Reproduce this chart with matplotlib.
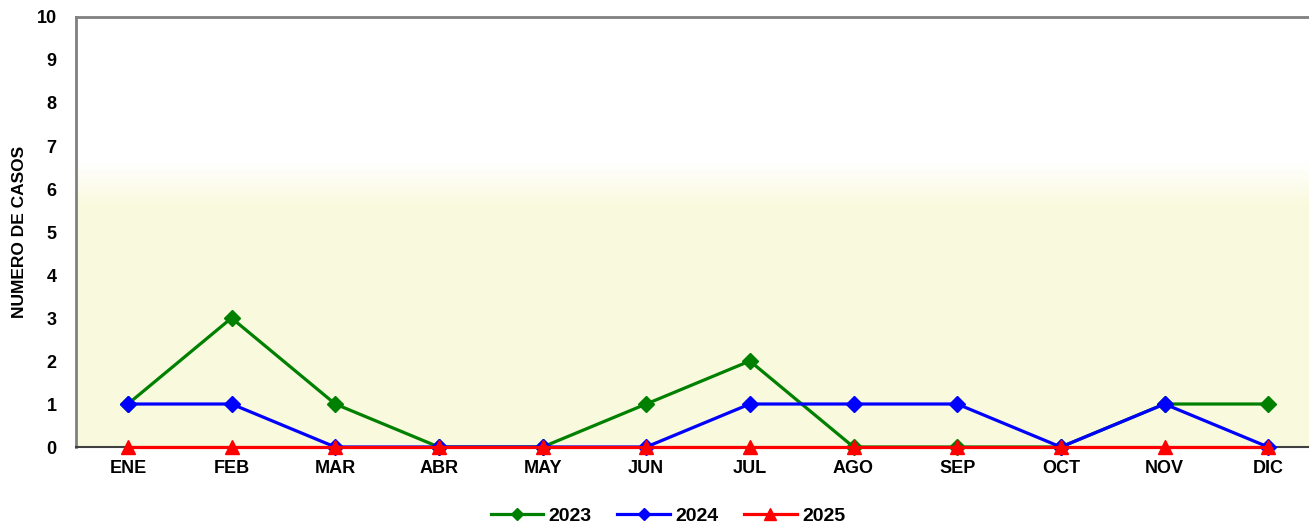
import numpy as np
import matplotlib.pyplot as plt
from matplotlib.lines import Line2D

plt.rcParams['font.family'] = ['Liberation Sans', 'DejaVu Sans']

# Data
meses = ["ENE", "FEB", "MAR", "ABR", "MAY", "JUN", "JUL", "AGO", "SEP", "OCT", "NOV", "DIC"]
casos_2023 = [1, 3, 1, 0, 0, 1, 2, 0, 0, 0, 1, 1]
casos_2024 = [1, 1, 0, 0, 0, 0, 1, 1, 1, 0, 1, 0]
casos_2025 = [0, 0, 0, 0, 0, 0, 0, 0, 0, 0, 0, 0]
series = [
    ("2023", casos_2023, "#008000", "D"),
    ("2024", casos_2024, "#0000FF", "D"),
    ("2025", casos_2025, "#FF0000", "^"),
]

fig = plt.figure(figsize=(13.09, 5.23), dpi=100)
ax = fig.add_axes([0.0581, 0.1453, 0.9503, 0.8222])

x = np.arange(len(meses))
ax.set_xlim(-0.5, len(meses) - 0.5)
ax.set_ylim(0, 10)

# background: white at top fading to pale yellow
yy = np.linspace(10, 0, 400)
t = np.clip((6.6 - yy) / 1.0, 0, 1)
top = np.array([1.0, 1.0, 1.0])
bot = np.array([0.98, 0.98, 0.87])
grad = top[None, :] * (1 - t[:, None]) + bot[None, :] * t[:, None]
ax.imshow(grad[:, None, :], extent=[-0.5, len(meses) - 0.5, 0, 10],
          aspect="auto", zorder=0)

for label, vals, color, marker in series:
    ms = 10 if marker == "^" else 8.5
    ax.plot(x, vals, color=color, lw=2.3, marker=marker, markersize=ms,
            label=label, zorder=3, clip_on=False)

ax.set_xticks(x)
ax.set_xticklabels(meses, fontsize=13, fontweight="bold")
ax.set_yticks(range(0, 11))
ax.set_yticklabels([str(v) for v in range(0, 11)], fontsize=13, fontweight="bold")
ax.tick_params(axis="both", length=0)
ax.tick_params(axis="y", pad=14)
ax.tick_params(axis="x", pad=9)

for side in ["left", "top"]:
    ax.spines[side].set_color("#808080")
    ax.spines[side].set_linewidth(2)
ax.spines["bottom"].set_color("#404040")
ax.spines["bottom"].set_linewidth(1.5)
ax.spines["right"].set_visible(False)

ax.set_ylabel("NUMERO DE CASOS", fontsize=12.5, fontweight="bold", labelpad=7)

handles = [Line2D([0], [0], color=c, lw=2.3, marker=m, markersize=6.5 if m == "D" else 8.5)
           for _, _, c, m in series]
fig.legend(handles, [s[0] for s in series], loc="center",
           bbox_to_anchor=(668 / 1309, 1 - 516 / 523), ncol=3, frameon=False,
           prop={"size": 14, "weight": "bold"}, handlelength=2.7,
           columnspacing=1.3, handletextpad=0.3)

fig.savefig("out.png", dpi=100)
